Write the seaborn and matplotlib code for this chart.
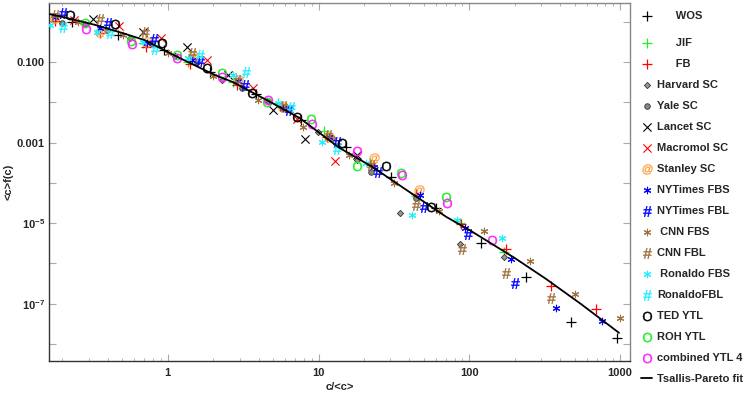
import matplotlib
matplotlib.use("Agg")
import matplotlib.pyplot as plt
import seaborn as sns
from matplotlib.ticker import FixedLocator, FuncFormatter, LogLocator, NullLocator

# --- values ---
wos_x = [0.231, 0.467, 0.941, 1.90, 3.83, 7.60, 15.3, 30.4, 60.4, 120, 238, 474, 955]
wos_y = [0.98, 0.47, 0.199, 0.0565, 0.0161, 0.00364, 7.8e-4, 1.4e-4, 2.4e-5, 3.2e-6, 4.6e-7, 3.5e-8, 1.4e-8]

jif_x = [0.683, 1.36, 2.69, 5.35, 10.8, 21.8, 44.6, 87.1, 171]
jif_y = [0.296, 0.100, 0.032, 0.0096, 0.00194, 3.1e-4, 4.7e-5, 1.0e-5, 1.9e-6]

fb_x = [0.179, 0.355, 0.715, 1.40, 2.86, 5.69, 11.3, 22.4, 44.6, 88.5, 176, 349, 693]
fb_y = [1.04, 0.525, 0.235, 0.089, 0.0268, 0.0076, 0.00138, 2.8e-4, 5.3e-5, 9.6e-6, 2.3e-6, 2.8e-7, 7.4e-8]

harvard_x = [0.282, 0.56, 1.11, 2.28, 4.59, 9.85, 18.1, 34.9, 87.1, 171]
harvard_y = [0.88, 0.394, 0.141, 0.0357, 0.0108, 0.00183, 3.7e-4, 1.8e-5, 3.0e-6, 1.45e-6]

yale_x = [0.199, 0.394, 0.783, 1.56, 3.09, 6.14, 12.2, 22.4, 44.6]
yale_y = [0.93, 0.62, 0.28, 0.1, 0.0226, 0.0072, 0.0013, 1.86e-4, 4.2e-5]

lancet_x = [0.319, 0.683, 1.34, 2.50, 4.96, 8.08, 18.1]
lancet_y = [1.17, 0.555, 0.236, 0.0475, 0.0064, 0.00123, 4.9e-4]

macromol_x = [0.238, 0.473, 0.90, 1.81, 3.65, 7.15, 12.8]
macromol_y = [1.10, 0.78, 0.394, 0.112, 0.0226, 0.00386, 3.5e-4]

stanley_x = [0.179, 0.355, 0.726, 1.46, 2.91, 5.78, 11.8, 23.5, 46.7]
stanley_y = [1.24, 0.555, 0.313, 0.141, 0.0357, 0.0076, 0.00138, 4.1e-4, 6.7e-5]

nyt_fbs_x = [0.179, 0.355, 0.726, 1.44, 2.91, 5.78, 11.8, 23.5, 47.4, 94, 190, 377, 760]
nyt_fbs_y = [1.31, 0.70, 0.296, 0.112, 0.0338, 0.0072, 0.00138, 2.5e-4, 5.0e-5, 7.6e-6, 1.3e-6, 7.9e-8, 3.7e-8]

nyt_fbl_x = [0.202, 0.40, 0.81, 1.63, 3.23, 6.42, 13.2, 24.9, 50.4, 98.5, 202]
nyt_fbl_y = [1.64, 0.93, 0.372, 0.106, 0.0268, 0.0064, 0.00104, 1.86e-4, 2.5e-5, 5.4e-6, 3.3e-7]

cnn_fbs_x = [0.254, 0.504, 1.0, 1.99, 3.94, 7.84, 16.0, 31.9, 63.3, 126, 253, 504, 1000]
cnn_fbs_y = [0.98, 0.468, 0.167, 0.045, 0.0114, 0.00244, 4.9e-4, 1.0e-4, 2.0e-5, 6.4e-6, 1.15e-6, 1.75e-7, 4.5e-8]

cnn_fbl_x = [0.179, 0.355, 0.704, 1.44, 2.86, 5.78, 11.5, 22.4, 44.6, 89.9, 176, 349]
cnn_fbl_y = [1.47, 1.17, 0.555, 0.167, 0.0357, 0.0081, 0.00155, 2.8e-4, 2.8e-5, 2.3e-6, 5.8e-7, 1.4e-7]

ron_fbs_x = [0.166, 0.339, 0.683, 1.36, 2.69, 5.35, 10.5, 20.8, 42, 83, 166]
ron_fbs_y = [0.83, 0.555, 0.313, 0.126, 0.0475, 0.0096, 0.00104, 3.1e-4, 1.6e-5, 1.2e-5, 4.3e-6]

ron_fbl_x = [0.202, 0.413, 0.82, 1.63, 3.28, 6.53, 13.2]
ron_fbl_y = [0.74, 0.525, 0.21, 0.149, 0.0565, 0.0076, 6.9e-4]

ted_x = [0.224, 0.446, 0.913, 1.81, 3.6, 7.15, 14.4, 28.2, 56]
ted_y = [1.47, 0.88, 0.296, 0.071, 0.017, 0.0043, 9.8e-4, 2.6e-4, 2.5e-5]

roh_x = [0.282, 0.569, 1.15, 2.28, 4.52, 8.85, 17.9, 35.5, 70.4]
roh_y = [0.93, 0.332, 0.149, 0.0533, 0.0102, 0.00385, 2.6e-4, 1.76e-4, 4.5e-5]

comb_x = [0.286, 0.578, 1.15, 2.28, 4.59, 9.12, 18.1, 36.0, 71.5, 142]
comb_y = [0.66, 0.28, 0.126, 0.0425, 0.0114, 0.0029, 6.2e-4, 1.57e-4, 3.2e-5, 3.8e-6]

# Tsallis-Pareto fit line, read at points along the drawn curve
fit_x = [0.163, 0.2, 0.33, 0.51, 0.70, 1.16, 2.05, 2.69, 4.52, 7.48, 13.8, 22.8, 38.3, 70.4, 100, 200, 324, 550, 985]
fit_y = [1.55, 1.31, 0.83, 0.51, 0.35, 0.133, 0.0475, 0.0319, 0.0114, 0.00407, 7.35e-4, 2.48e-4,
         6.67e-5, 1.43e-5, 6.8e-6, 1.37e-6, 4.1e-7, 9.9e-8, 1.9e-8]

sns.set_style("ticks")
plt.rcParams["font.family"] = ["Liberation Sans", "DejaVu Sans"]
plt.rcParams["mathtext.fontset"] = "custom"
plt.rcParams["mathtext.bf"] = "Liberation Sans:bold"
plt.rcParams["mathtext.rm"] = "Liberation Sans"
plt.rcParams["mathtext.it"] = "Liberation Sans:italic"

fig = plt.figure(figsize=(7.47, 3.93), dpi=100)
ax = fig.add_axes([49 / 747, 32 / 393, 581 / 747, 358 / 393])

green = "#22ee22"
orange = "#ff9a30"
brown = "#a0703c"
cyan = "#22eeff"
hash_mk = "$\\mathrm{\\#}$"
oh_mk = "$\\mathrm{O}$"

# label, x, y, marker, colour, size, linewidth, edge
series = [
    ("      WOS", wos_x, wos_y, "+", "black", 45, 0.9, None),
    ("      JIF", jif_x, jif_y, "+", green, 45, 0.9, None),
    ("      FB", fb_x, fb_y, "+", "red", 45, 0.9, None),
    ("Harvard SC", harvard_x, harvard_y, "D", "#999999", 10, 0.6, "#333333"),
    ("Yale SC", yale_x, yale_y, "o", "#888888", 16, 0.6, "#333333"),
    ("Lancet SC", lancet_x, lancet_y, "x", "black", 35, 0.8, None),
    ("Macromol SC", macromol_x, macromol_y, "x", "red", 35, 0.8, None),
    ("Stanley SC", stanley_x, stanley_y, "$@$", orange, 52, 0.2, None),
    ("NYTimes FBS", nyt_fbs_x, nyt_fbs_y, (6, 2, 0), "blue", 22, 0.8, None),
    ("NYTimes FBL", nyt_fbl_x, nyt_fbl_y, hash_mk, "blue", 55, 0.35, None),
    (" CNN FBS", cnn_fbs_x, cnn_fbs_y, (6, 2, 0), brown, 22, 0.8, None),
    ("CNN FBL", cnn_fbl_x, cnn_fbl_y, hash_mk, brown, 55, 0.35, None),
    (" Ronaldo FBS", ron_fbs_x, ron_fbs_y, (6, 2, 0), cyan, 22, 0.8, None),
    ("RonaldoFBL", ron_fbl_x, ron_fbl_y, hash_mk, cyan, 55, 0.35, None),
    ("TED YTL", ted_x, ted_y, oh_mk, "black", 45, 0.3, None),
    ("ROH YTL", roh_x, roh_y, oh_mk, green, 45, 0.3, None),
    ("combined YTL 4", comb_x, comb_y, oh_mk, "#ff22ff", 45, 0.3, None),
]

for label, xs, ys, mk, col, size, lw, edge in series:
    kw = dict(marker=mk, s=size, linewidth=lw, label=label, ax=ax, zorder=3)
    if edge is not None:
        kw["facecolor"] = col
        kw["edgecolor"] = edge
    else:
        kw["color"] = col
        kw["edgecolor"] = col
    sns.scatterplot(x=xs, y=ys, **kw)

sns.lineplot(x=fit_x, y=fit_y, color="black", linewidth=1.3, label="Tsallis-Pareto fit",
             ax=ax, zorder=4, sort=False)

ax.set_xscale("log")
ax.set_yscale("log")
ax.set_xlim(0.163, 1165)
ax.set_ylim(3.8e-9, 2.9)

ax.xaxis.set_major_locator(FixedLocator([1, 10, 100, 1000]))
ax.xaxis.set_minor_locator(LogLocator(base=10, subs=range(2, 10)))
ax.xaxis.set_major_formatter(FuncFormatter(lambda v, p: f"{v:g}"))
ax.xaxis.set_minor_formatter(FuncFormatter(lambda v, p: ""))

ylabels = {0.1: "0.100", 1e-3: "0.001", 1e-5: r"$\mathbf{10^{-5}}$", 1e-7: r"$\mathbf{10^{-7}}$"}
ax.yaxis.set_major_locator(FixedLocator([10.0 ** k for k in range(-8, 1)]))
ax.yaxis.set_minor_locator(NullLocator())
def ylab(v, p):
    for k, s in ylabels.items():
        if abs(v / k - 1) < 1e-6:
            return s
    return ""
ax.yaxis.set_major_formatter(FuncFormatter(ylab))

ax.tick_params(which="both", direction="in", top=True, right=True, color="#aaaaaa",
               labelsize=8)
ax.tick_params(axis="x", pad=5)
ax.tick_params(axis="y", pad=3)
ax.tick_params(which="major", length=5, width=0.8)
ax.tick_params(which="minor", length=2.5, width=0.6)
for lbl in ax.get_xticklabels() + ax.get_yticklabels():
    lbl.set_fontweight("bold")

for side in ["left", "bottom"]:
    ax.spines[side].set_color("#333333")
for side in ["top", "right"]:
    ax.spines[side].set_color("#888888")
for sp in ax.spines.values():
    sp.set_linewidth(1.0)

ax.set_xlabel("c/<c>", fontsize=8, fontweight="bold", labelpad=3)
ax.set_ylabel("<c>f(c)", fontsize=8, fontweight="bold")
ax.yaxis.set_label_coords(-35 / 581, 0.5)

handles, labels = ax.get_legend_handles_labels()
if ax.legend_:
    ax.legend_.remove()
leg1 = fig.legend(handles[:1], labels[:1], loc="upper left", bbox_to_anchor=(641 / 747, 1 - 11 / 393),
                  frameon=False, fontsize=8, borderpad=0, borderaxespad=0,
                  handlelength=1.0, handletextpad=0.45, labelspacing=0.99)
leg2 = fig.legend(handles[1:], labels[1:], loc="upper left", bbox_to_anchor=(641 / 747, 1 - 38 / 393),
                  frameon=False, fontsize=8, borderpad=0, borderaxespad=0,
                  handlelength=1.0, handletextpad=0.45, labelspacing=0.99)
for leg in (leg1, leg2):
    for t in leg.get_texts():
        t.set_fontweight("bold")

fig.savefig("out.png", dpi=100)
